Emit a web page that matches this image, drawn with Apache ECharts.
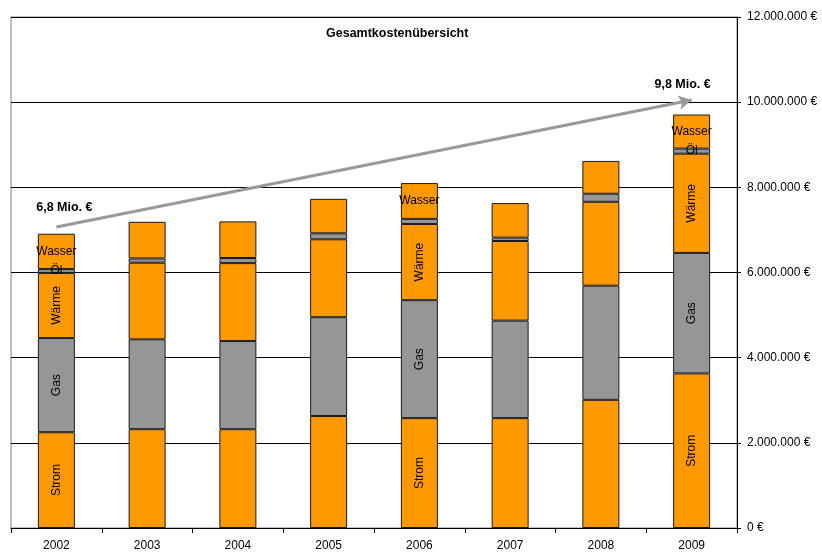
<!DOCTYPE html>
<html>
<head>
<meta charset="utf-8">
<script src="https://cdn.jsdelivr.net/npm/echarts@6/dist/echarts.min.js"></script>
<style>html,body{margin:0;padding:0;background:#fff;}#c{width:822px;height:553px;}</style>
</head>
<body>
<div id="c"></div>
<script>
var years = ['2002','2003','2004','2005','2006','2007','2008','2009'];
var strom  = [2250000, 2320000, 2320000, 2630000, 2580000, 2580000, 3010000, 3630000];
var gas    = [2210000, 2110000, 2070000, 2320000, 2770000, 2290000, 2680000, 2830000];
var waerme = [1530000, 1800000, 1830000, 1830000, 1790000, 1870000, 1970000, 2330000];
var oel    = [  90000,  100000,  120000,  140000,  120000,   80000,  190000,  120000];
var wasser = [ 830000,  860000,  860000,  810000,  840000,  810000,  770000,  800000];
var yTicks = [0, 2000000, 4000000, 6000000, 8000000, 10000000, 12000000];
var labelYears = { Strom: ['2002','2006','2009'], Gas: ['2002','2006','2009'], 'Wärme': ['2002','2006','2009'], 'Öl': ['2002','2009'], Wasser: ['2002','2006','2009'] };
var arrowStart = ['2002', 7070000];
var arrowEnd = ['2009', 10050000];
var startLabel = '6,8 Mio. €';
var endLabel = '9,8 Mio. €';
var startLabelPos = ['2002', 7560000];
var endLabelPos = ['2009', 10430000];

var ORANGE = '#FF9900', GRAY = '#969696';
function fmt(v){ return String(v).replace(/\B(?=(\d{3})+(?!\d))/g, '.') + ' €'; }

function mkSeries(name, vals, color, rotate){
  return {
    name: name, type: 'bar', stack: 'k', barWidth: 37,
    itemStyle: { color: color, borderColor: '#1a1a1a', borderWidth: 1 },
    data: vals.map(function(v, i){
      var show = labelYears[name].indexOf(years[i]) >= 0;
      return { value: v, label: { show: show } };
    }),
    label: { show: false, position: 'inside', formatter: name, rotate: rotate, color: '#000',
             fontFamily: 'Liberation Sans, Arial, sans-serif', fontSize: 12 },
    emphasis: { disabled: true }
  };
}

var chart = echarts.init(document.getElementById('c'));
chart.setOption({
  animation: false,
  backgroundColor: '#fff',
  title: { text: 'Gesamtkostenübersicht', left: 321, top: 22,
           textStyle: { fontFamily: 'Liberation Sans, Arial, sans-serif', fontSize: 12.5, fontWeight: 'bold', color: '#000' } },
  grid: { left: 11, right: 85, top: 17, bottom: 25, show: true, borderColor: '#808080', borderWidth: 1 },
  xAxis: {
    type: 'category', data: years,
    axisLine: { lineStyle: { color: '#000', width: 1 } },
    axisTick: { show: true, length: 5, lineStyle: { color: '#000' } },
    axisLabel: { color: '#000', fontFamily: 'Liberation Sans, Arial, sans-serif', fontSize: 12, margin: 12 }
  },
  yAxis: {
    type: 'value', position: 'right', min: 0, max: 12000000, interval: 2000000,
    axisLine: { show: true, lineStyle: { color: '#000', width: 1 } },
    axisTick: { show: true, length: 4, lineStyle: { color: '#000' } },
    axisLabel: { color: '#000', fontFamily: 'Liberation Sans, Arial, sans-serif', fontSize: 12, margin: 10,
                 formatter: function(v){ return yTicks.indexOf(v) >= 0 ? fmt(v) : ''; } },
    splitLine: { show: true, lineStyle: { color: '#000', width: 1 } }
  },
  series: [
    mkSeries('Strom', strom, ORANGE, 90),
    mkSeries('Gas', gas, GRAY, 90),
    mkSeries('Wärme', waerme, ORANGE, 90),
    mkSeries('Öl', oel, GRAY, 0),
    mkSeries('Wasser', wasser, ORANGE, 0),
    {
      name: 'trend', type: 'line', data: [], symbol: 'none', silent: true,
      markLine: {
        silent: true, symbol: ['none', 'arrow'], symbolSize: [11, 13],
        lineStyle: { color: '#999999', width: 3, type: 'solid' },
        label: { show: false },
        data: [[ { coord: arrowStart }, { coord: arrowEnd } ]]
      },
      markPoint: {
        silent: true, symbol: 'circle', symbolSize: 0,
        label: { show: true, position: 'inside', color: '#000', fontWeight: 'bold', fontSize: 12.5,
                 fontFamily: 'Liberation Sans, Arial, sans-serif' },
        data: [
          { coord: startLabelPos, label: { formatter: startLabel, offset: [8, 1] } },
          { coord: endLabelPos, label: { formatter: endLabel, offset: [-9, 1] } }
        ]
      }
    }
  ]
});
</script>
</body>
</html>
